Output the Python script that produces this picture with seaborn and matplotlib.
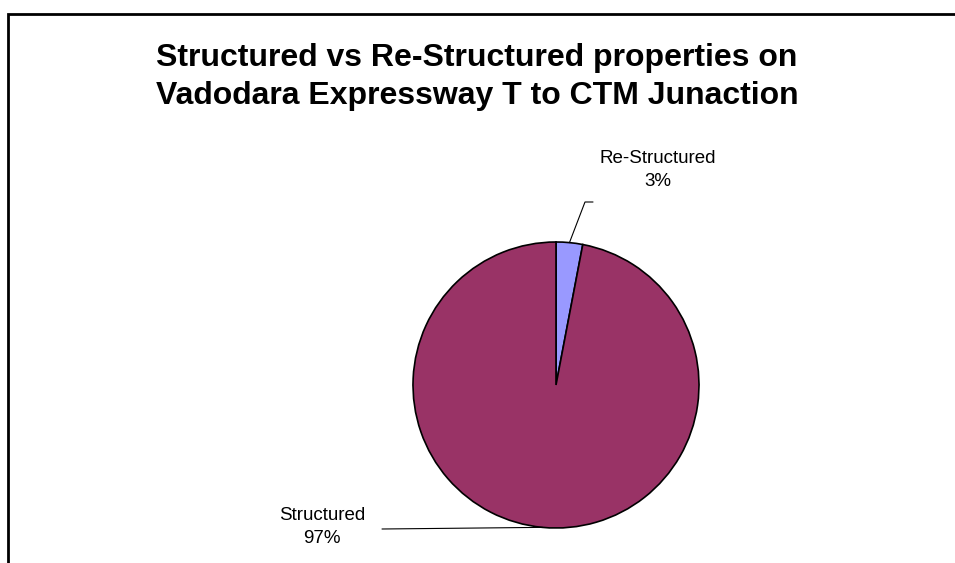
import matplotlib
matplotlib.use("Agg")
import matplotlib.pyplot as plt
from matplotlib.patches import Rectangle
import seaborn as sns
import numpy as np

labels = ["Re-Structured", "Structured"]
shares = [3, 97]
colors = ["#9999FF", "#993366"]
title = "Structured vs Re-Structured properties on\nVadodara Expressway T to CTM Junaction"

sns.set_theme(style="white")
plt.rcParams["font.family"] = ["Liberation Sans", "DejaVu Sans"]
plt.rcParams["text.color"] = "black"

W, H = 955, 563
fig = plt.figure(figsize=(W / 100, H / 100), dpi=100)

# pie centred at about (556, 385) px, radius ~143 px
cx, cy, r = 556, 385, 143
ax = fig.add_axes([(cx - r) / W, (H - cy - r) / H, 2 * r / W, 2 * r / H])
wedges, _ = ax.pie(shares, colors=sns.color_palette(colors), startangle=90,
                   counterclock=False, radius=1,
                   wedgeprops=dict(edgecolor="black", linewidth=1.2))
ax.set_xlim(-1, 1)
ax.set_ylim(-1, 1)
ax.set_aspect("equal")
ax.axis("off")

# label positions (px) for text and leader line ends
label_px = {"Re-Structured": (658, 170), "Structured": (322, 527)}
elbow_px = {"Re-Structured": [(585, 202), (593, 202)], "Structured": [(382, 529)]}

def to_data(p):
    return ((p[0] - cx) / r, (cy - p[1]) / r)

for w, name, val in zip(wedges, labels, shares):
    ang = np.deg2rad((w.theta1 + w.theta2) / 2)
    start = (np.cos(ang), np.sin(ang))
    pts = [start] + [to_data(p) for p in elbow_px[name]]
    xs, ys = zip(*pts)
    ax.plot(xs, ys, color="black", linewidth=0.8, clip_on=False)
    tx, ty = to_data(label_px[name])
    ax.text(tx, ty, f"{name}\n{val}%", ha="center", va="center", color="black",
            fontsize=13.5, linespacing=1.45, clip_on=False)

fig.text(477 / W, 1 - 77 / H, title, ha="center", va="center", color="black",
         fontsize=23, fontweight="bold", linespacing=1.37)

fig.patches.append(Rectangle((8 / W, -0.2), 1.2, 1.2 - 14 / H, transform=fig.transFigure,
                             fill=False, edgecolor="black", linewidth=2))

fig.savefig("out.png", dpi=100)
